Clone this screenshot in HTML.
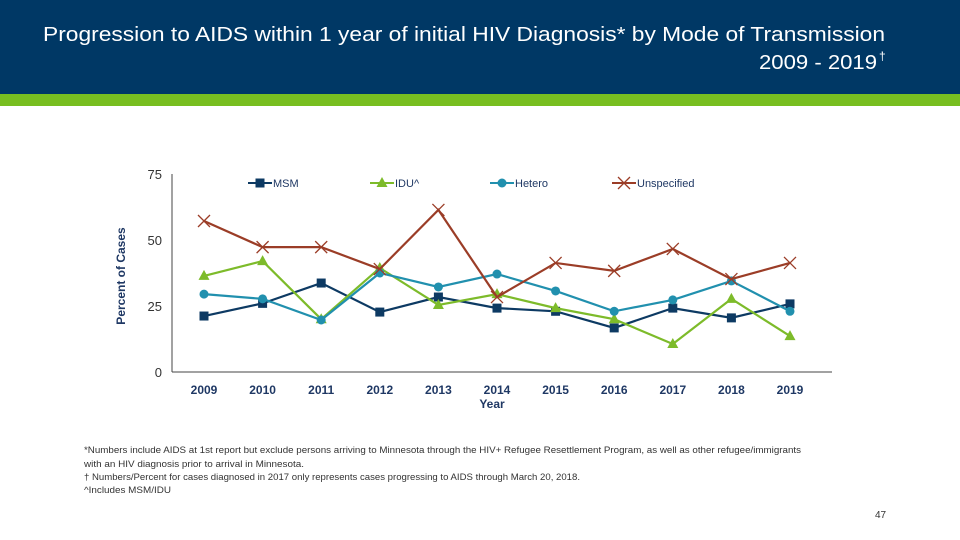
<!DOCTYPE html>
<html><head><meta charset="utf-8"><style>
html,body{margin:0;padding:0;background:#fff;}
svg{display:block;font-family:"Liberation Sans",sans-serif;}
</style></head><body>
<svg id="chart" width="960" height="540" viewBox="0 0 960 540">
  <rect x="0" y="0" width="960" height="94" fill="#003865"/>
  <rect x="0" y="94" width="960" height="12" fill="#78be20"/>
  <text x="43" y="41" font-size="20" fill="#fff" textLength="842" lengthAdjust="spacingAndGlyphs">Progression to AIDS within 1 year of initial HIV Diagnosis* by Mode of Transmission</text>
  <text x="759" y="69" font-size="20" fill="#fff" textLength="118" lengthAdjust="spacingAndGlyphs">2009 - 2019</text>
  <text x="879" y="60" font-size="12" fill="#fff">†</text>
  <g id="plot"></g>
  <text x="492" y="408" font-size="12" font-weight="bold" fill="#1f3864" text-anchor="middle">Year</text>
  <text transform="translate(125,276) rotate(-90)" font-size="12" font-weight="bold" fill="#1f3864" text-anchor="middle">Percent of Cases</text>
  <g font-size="9" fill="#333">
    <text x="84" y="453" textLength="717" lengthAdjust="spacingAndGlyphs">*Numbers include AIDS at 1st report but exclude persons arriving to Minnesota through the HIV+ Refugee Resettlement Program, as well as other refugee/immigrants</text>
    <text x="84" y="467" textLength="220" lengthAdjust="spacingAndGlyphs">with an HIV diagnosis prior to arrival in Minnesota.</text>
    <text x="84" y="480" textLength="496" lengthAdjust="spacingAndGlyphs">† Numbers/Percent for cases diagnosed in 2017 only represents cases progressing to AIDS through March 20, 2018.</text>
    <text x="84" y="493" textLength="87" lengthAdjust="spacingAndGlyphs">^Includes MSM/IDU</text>
  </g>
  <text x="875" y="518" font-size="10" fill="#333">47</text>
</svg>
<script>
const years = ["2009","2010","2011","2012","2013","2014","2015","2016","2017","2018","2019"];
const msm = [21.2,26,33.7,22.7,28.4,24.2,23,16.7,24.2,20.5,25.8];
const idu = [36.4,42,20,39.4,25.4,29.5,24.2,20,10.6,27.7,13.6];
const hetero = [29.5,27.7,19.7,37.5,32.2,37.1,30.7,23,27.3,34.5,23];
const unspecified = [57.2,47.3,47.3,39,61.4,28.4,41.3,38.3,46.6,35.2,41.3];
const yTicks = [0,25,50,75];
const seriesNames = ["MSM","IDU^","Hetero","Unspecified"];

const NS="http://www.w3.org/2000/svg";
const g=document.getElementById('plot');
const x0=204, dx=58.6, yBase=372, yTop=174, yMax=75;
const xs=i=>x0+i*dx;
const ys=v=>yBase-(v/yMax)*(yBase-yTop);
function mk(t,a,p){const e=document.createElementNS(NS,t);for(const k in a)e.setAttribute(k,a[k]);(p||g).appendChild(e);return e;}

let ax=mk('line',{x1:172,y1:yTop,x2:172,y2:yBase,stroke:'#444','stroke-width':1});


let bx=mk('line',{x1:172,y1:yBase,x2:832,y2:yBase,stroke:'#444','stroke-width':1});


yTicks.forEach(t=>{
  const e=mk('text',{x:162,y:ys(t)+5,'font-size':13,fill:'#333','text-anchor':'end'});
  e.textContent=t;
  
  
});
years.forEach((y,i)=>{
  const e=mk('text',{x:xs(i),y:394,'font-size':12,'font-weight':'bold',fill:'#1f3864','text-anchor':'middle'});
  e.textContent=y;
  
  
});

function marker(kind,cx,cy,color,parent){
  let e;
  if(kind==='sq') e=mk('rect',{x:cx-4.5,y:cy-4.5,width:9,height:9,fill:color},parent);
  else if(kind==='tri') e=mk('polygon',{points:`${cx},${cy-6} ${cx-5.5},${cy+4} ${cx+5.5},${cy+4}`,fill:color},parent);
  else if(kind==='circ') e=mk('circle',{cx:cx,cy:cy,r:4.5,fill:color},parent);
  else e=mk('path',{d:`M${cx-6},${cy-6}L${cx+6},${cy+6}M${cx-6},${cy+6}L${cx+6},${cy-6}`,stroke:color,'stroke-width':1.3,fill:'none'},parent);
  return e;
}
const series=[
  {vals:msm,color:'#0d3a63',m:'sq',name:'msm'},
  {vals:idu,color:'#7dbb2a',m:'tri',name:'idu'},
  {vals:hetero,color:'#2190ae',m:'circ',name:'hetero'},
  {vals:unspecified,color:'#9b3d27',m:'x',name:'unspecified'}
];
series.forEach(s=>{
  const sg=mk('g',{});
  
  
  const l=mk('polyline',{points:s.vals.map((v,i)=>xs(i)+','+ys(v)).join(' '),fill:'none',stroke:s.color,'stroke-width':2.2},sg);
  
  
  s.vals.forEach((v,i)=>{
    const m=marker(s.m,xs(i),ys(v),s.color,sg);
    
    
  });
});
const legX=[248,370,490,612];
series.forEach((s,i)=>{
  const lg=mk('g',{});
  
  
  mk('line',{x1:legX[i],y1:183,x2:legX[i]+24,y2:183,stroke:s.color,'stroke-width':2},lg);
  marker(s.m,legX[i]+12,183,s.color,lg);
  const t=mk('text',{x:legX[i]+25,y:187,'font-size':11,fill:'#1f3864'},lg);
  t.textContent=seriesNames[i];
});
</script>
</body></html>
